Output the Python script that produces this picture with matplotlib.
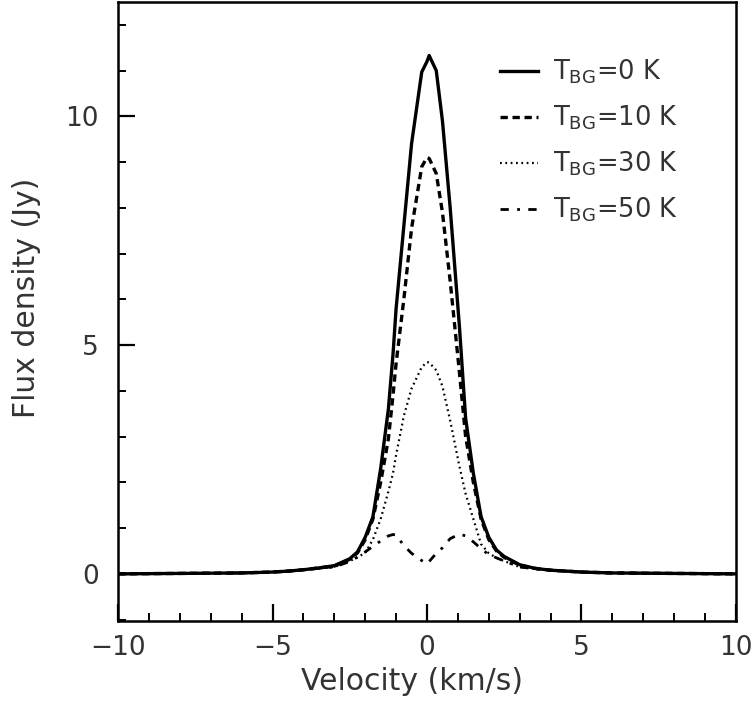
import matplotlib
matplotlib.use("Agg")
import matplotlib.pyplot as plt
from matplotlib.ticker import MultipleLocator

# Velocity grid (km/s) and flux densities (Jy)
vel = [-10, -8, -6, -5, -4.5, -4, -3.5, -3, -2.5, -2.25, -2, -1.75, -1.5, -1.25,
       -1.1, -1.0, -0.75, -0.5, -0.17, 0.0, 0.07, 0.3, 0.5, 0.75, 1.05, 1.25,
       1.5, 1.75, 2.0, 2.25, 2.5, 3.0, 3.5, 4.0, 4.5, 5, 6, 8, 10]

flux_0K = [0.0, 0.01, 0.02, 0.04, 0.06, 0.09, 0.13, 0.18, 0.33, 0.48, 0.8, 1.25,
           2.3, 3.6, 4.8, 5.8, 7.6, 9.4, 10.97, 11.2, 11.33, 11.0, 9.9, 8.0, 5.4,
           3.4, 2.2, 1.25, 0.8, 0.52, 0.38, 0.2, 0.12, 0.08, 0.06, 0.04, 0.02,
           0.01, 0.0]

flux_10K = [0.0, 0.01, 0.02, 0.04, 0.06, 0.09, 0.13, 0.17, 0.32, 0.46, 0.75, 1.2,
            2.0, 2.95, 3.9, 4.6, 6.0, 7.55, 8.9, 9.1, 9.08, 8.75, 7.9, 6.4, 4.4,
            3.0, 2.0, 1.2, 0.75, 0.5, 0.36, 0.19, 0.12, 0.08, 0.06, 0.04, 0.02,
            0.01, 0.0]

flux_30K = [0.0, 0.01, 0.02, 0.04, 0.06, 0.09, 0.12, 0.15, 0.28, 0.36, 0.46, 0.75,
            1.2, 1.8, 2.2, 2.6, 3.45, 4.05, 4.52, 4.63, 4.62, 4.45, 4.1, 3.35, 2.35,
            1.75, 1.2, 0.65, 0.45, 0.35, 0.28, 0.15, 0.11, 0.08, 0.06, 0.04, 0.02,
            0.01, 0.0]

flux_50K = [0.0, 0.01, 0.02, 0.04, 0.06, 0.09, 0.12, 0.15, 0.27, 0.37, 0.48, 0.6,
            0.72, 0.83, 0.86, 0.85, 0.62, 0.45, 0.29, 0.22, 0.27, 0.45, 0.57, 0.77,
            0.87, 0.83, 0.7, 0.55, 0.42, 0.35, 0.28, 0.15, 0.11, 0.08, 0.06, 0.04,
            0.02, 0.01, 0.0]

labels = [r"$\mathrm{T_{BG}}$=0 K", r"$\mathrm{T_{BG}}$=10 K",
          r"$\mathrm{T_{BG}}$=30 K", r"$\mathrm{T_{BG}}$=50 K"]

plt.rcParams['font.family'] = ['DejaVu Sans']
plt.rcParams['mathtext.fontset'] = 'dejavusans'
text_color = '#333333'

fig = plt.figure(figsize=(7.55, 7.02), dpi=100)
ax = fig.add_axes([118/755, 1 - 621/702, (736 - 118)/755, (621 - 2)/702])

ax.plot(vel, flux_0K, color='black', lw=2.4, ls='-', label=labels[0])
ax.plot(vel, flux_10K, color='black', lw=2.4, ls=(0, (2.2, 1.4)), label=labels[1])
ax.plot(vel, flux_30K, color='black', lw=1.6, ls=(0, (0.8, 1.6)), label=labels[2])
ax.plot(vel, flux_50K, color='black', lw=2.0, ls=(0, (3, 3, 1, 3)), label=labels[3])

ax.set_xlim(-10, 10)
ax.set_ylim(-1.03, 12.5)
ax.xaxis.set_major_locator(MultipleLocator(5))
ax.xaxis.set_minor_locator(MultipleLocator(1))
ax.yaxis.set_major_locator(MultipleLocator(5))
ax.yaxis.set_minor_locator(MultipleLocator(1))
ax.tick_params(which='both', direction='in', top=False, right=False,
               labelsize=19, labelcolor=text_color, color='black')
ax.tick_params(which='major', length=12, width=1.6)
ax.tick_params(axis='x', which='major', pad=10)
ax.tick_params(axis='y', which='major', pad=14)
ax.tick_params(which='minor', length=6, width=1.4)
ax.set_xticks([-10, -5, 0, 5, 10])
ax.set_xticklabels(['\u221210', '\u22125', '0', '5', '10'])
for s in ax.spines.values():
    s.set_linewidth(1.8)

ax.set_xlabel('Velocity (km/s)', fontsize=21.5, color=text_color)
ax.set_ylabel('Flux density (Jy)', fontsize=21.5, color=text_color)
ax.xaxis.set_label_coords(0.476, -0.075)
ax.yaxis.set_label_coords(-0.125, 0.522)

leg = ax.legend(loc='upper left', bbox_to_anchor=(0.618, 0.91), frameon=False,
                fontsize=18.5, handlelength=1.5, handletextpad=0.55,
                labelspacing=0.68, borderaxespad=0.0, borderpad=0.0)
for t in leg.get_texts():
    t.set_color(text_color)

fig.savefig('out.png', dpi=100)
